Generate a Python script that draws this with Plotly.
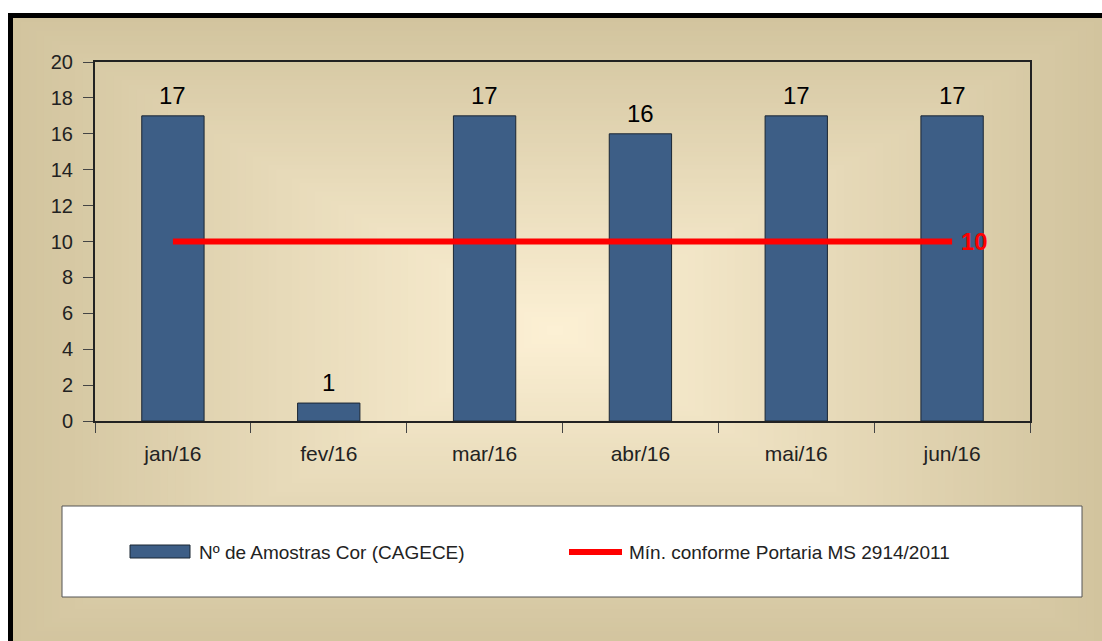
import plotly.graph_objects as go

# ---------------- data ----------------
months = ["jan/16", "fev/16", "mar/16", "abr/16", "mai/16", "jun/16"]
amostras = [17, 1, 17, 16, 17, 17]
minimo = [10, 10, 10, 10, 10, 10]
bar_name = "Nº de Amostras Cor (CAGECE)"
line_name = "Mín. conforme Portaria MS 2914/2011"
y_ticks = [0, 2, 4, 6, 8, 10, 12, 14, 16, 18, 20]

# ---------------- geometry helpers (pixels -> paper) ----------------
W, H = 1102, 641


def px(x):
    return x / W


def py(y):
    return 1 - y / H


FONT = "Liberation Sans, Arial, sans-serif"
BAR_COLOR = "#3d5e86"

shapes = []
# black frame
shapes.append(dict(type="rect", xref="paper", yref="paper", layer="below",
                   x0=px(8), x1=px(1120), y0=py(13), y1=py(700),
                   fillcolor="black", line_width=0))

# stepped rectangular gradient background
outer = (13, 18, 1102, 645)
cx, cy = 555, 330
c_out = (210, 196, 158)
c_in = (252, 240, 212)
N = 70
for i in range(N):
    s = 1 - i / N
    t = i / (N - 1)
    col = tuple(int(round(c_out[k] + (c_in[k] - c_out[k]) * t)) for k in range(3))
    x0 = cx + (outer[0] - cx) * s
    x1 = cx + (outer[2] - cx) * s
    y0 = cy + (outer[1] - cy) * s
    y1 = cy + (outer[3] - cy) * s
    shapes.append(dict(type="rect", xref="paper", yref="paper", layer="below",
                       x0=px(x0), x1=px(x1), y0=py(y0), y1=py(y1),
                       fillcolor="rgb(%d,%d,%d)" % col, line_width=0))

# legend box
shapes.append(dict(type="rect", xref="paper", yref="paper",
                   x0=px(62), x1=px(1082), y0=py(506), y1=py(597),
                   fillcolor="white", line=dict(color="#555555", width=1)))
shapes.append(dict(type="rect", xref="paper", yref="paper",
                   x0=px(130), x1=px(190), y0=py(545), y1=py(558),
                   fillcolor=BAR_COLOR, line=dict(color="#1b2633", width=1)))
shapes.append(dict(type="line", xref="paper", yref="paper",
                   x0=px(569), x1=px(622), y0=py(552), y1=py(552),
                   line=dict(color="#ff0000", width=6)))

annotations = [
    dict(xref="paper", yref="paper", x=px(197), y=py(552), xanchor="left", yanchor="middle",
         text=bar_name, showarrow=False, font=dict(family=FONT, size=19, color="#222222")),
    dict(xref="paper", yref="paper", x=px(627), y=py(552), xanchor="left", yanchor="middle",
         text=line_name, showarrow=False, font=dict(family=FONT, size=19, color="#222222")),
]
# value labels above bars
for m, v in zip(months, amostras):
    annotations.append(dict(xref="x", yref="y", x=m, y=v, xanchor="center", yanchor="bottom",
                            yshift=5, text=str(v), showarrow=False,
                            font=dict(family=FONT, size=24, color="black")))
# value label at end of the reference line
annotations.append(dict(xref="x", yref="y", x=months[-1], y=minimo[-1], xanchor="left",
                        yanchor="middle", xshift=7, text="<b>%d</b>" % minimo[-1], showarrow=False,
                        font=dict(family=FONT, size=24, color="#ff0000")))

fig = go.Figure()
fig.add_trace(go.Bar(
    x=months, y=amostras, name=bar_name, width=0.4,
    marker=dict(color=BAR_COLOR, line=dict(color="#1b2633", width=1)),
))
fig.add_trace(go.Scatter(
    x=months, y=minimo, name=line_name, mode="lines",
    line=dict(color="#ff0000", width=6),
))

fig.update_layout(
    width=W, height=H,
    margin=dict(l=0, r=0, t=0, b=0, pad=0, autoexpand=False),
    paper_bgcolor="white",
    plot_bgcolor="rgba(0,0,0,0)",
    showlegend=False,
    shapes=shapes,
    annotations=annotations,
    font=dict(family=FONT),
    xaxis=dict(
        domain=[px(95), px(1030)], automargin=False,
        tickson="boundaries", ticks="outside", ticklen=10, tickwidth=1, tickcolor="#444444",
        showline=True, linecolor="#222222", linewidth=2, mirror=True,
        showgrid=False, zeroline=False,
        tickfont=dict(family=FONT, size=21, color="#222222"),
        ticklabelstandoff=13,
    ),
    yaxis=dict(
        domain=[py(421), py(62)], automargin=False,
        range=[0, 20], tickvals=y_ticks,
        ticks="outside", ticklen=10, tickwidth=1, tickcolor="#444444",
        showline=True, linecolor="#222222", linewidth=2, mirror=True,
        showgrid=False, zeroline=False,
        tickfont=dict(family=FONT, size=20, color="#222222"),
        ticklabelstandoff=6,
    ),
    bargap=0.6,
)

fig.write_html("out.html", config={"displayModeBar": False},
               post_script="document.body.style.margin='0';document.body.style.overflow='hidden';")
